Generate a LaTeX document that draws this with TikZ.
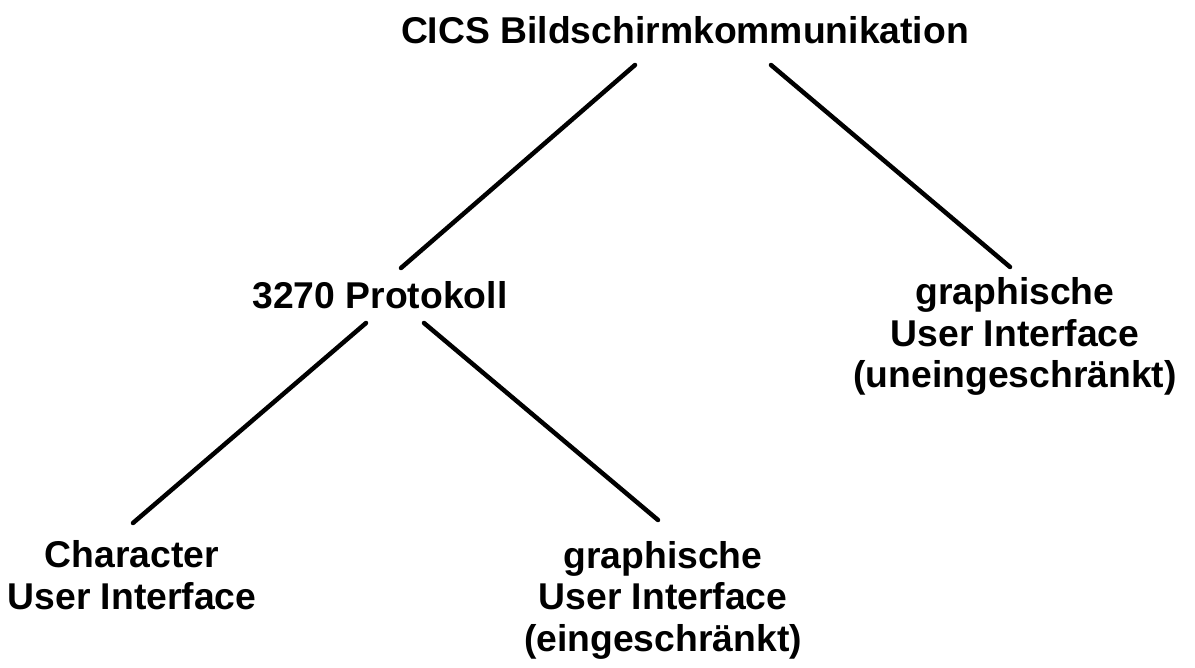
\documentclass[tikz,border=0pt]{standalone}
\usepackage{fontspec}
\setmainfont{Liberation Sans}
\begin{document}
\begin{tikzpicture}[x=1pt,y=-1pt,
  lbl/.style={font=\fontsize{37.3}{41.5}\selectfont\bfseries, align=center, inner sep=0pt, anchor=base},
  conn/.style={line width=4.5pt, line cap=round}]
\useasboundingbox (0,0) rectangle (1195,668);
\node[lbl] (cics) at (685,44) {CICS Bildschirmkommunikation};
\node[lbl] (proto) at (380,309) {3270 Protokoll};
\node[lbl] (gui) at (1015,388) {graphische\\User Interface\\(uneingeschränkt)};
\node[lbl] (cui) at (132,609) {Character\\User Interface};
\node[lbl] (gie) at (663,651) {graphische\\User Interface\\(eingeschränkt)};
\coordinate (a1) at (635,65);  \coordinate (a2) at (401,268);
\coordinate (b1) at (771,65);  \coordinate (b2) at (1010,267);
\coordinate (c1) at (366,323); \coordinate (c2) at (133,523);
\coordinate (d1) at (424,323); \coordinate (d2) at (658,520);
\draw[conn] (a1) -- (a2);
\draw[conn] (b1) -- (b2);
\draw[conn] (c1) -- (c2);
\draw[conn] (d1) -- (d2);
\end{tikzpicture}
\end{document}
